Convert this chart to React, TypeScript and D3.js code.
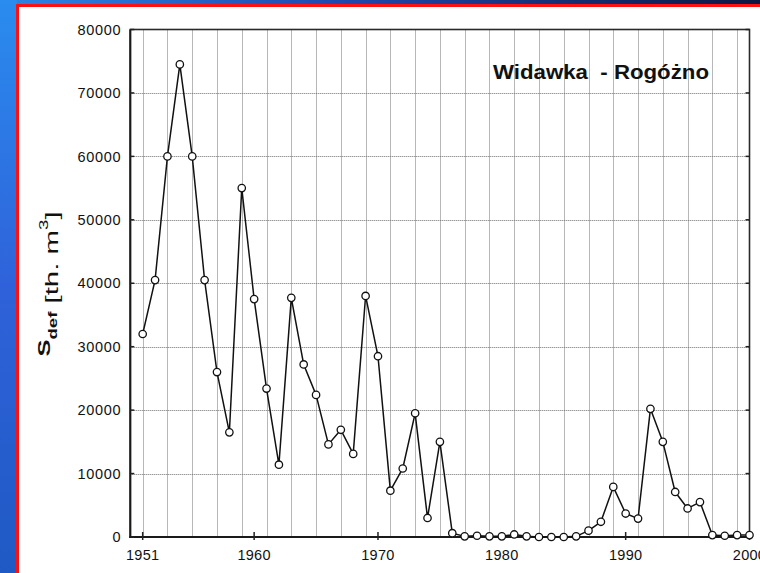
import React from "react";
import * as d3 from "d3";

const years: number[] = d3.range(1951, 2001);
const volumes: number[] = [
  32000, 40500, 60000, 74500, 60000, 40500, 26000, 16500, 55000, 37500,
  23400, 11400, 37700, 27200, 22400, 14600, 16900, 13100, 38000, 28500,
  7300, 10800, 19500, 3000, 15000, 600, 100, 200, 100, 100,
  400, 100, 0, 0, 0, 100, 1000, 2400, 7900, 3700,
  2900, 20200, 15000, 7100, 4500, 5500, 300, 200, 300, 300,
];
const xTickValues: number[] = [1951, 1960, 1970, 1980, 1990, 2000];
const xGridValues: number[] = d3.range(1951, 2000, 2);
const yTickValues: number[] = [0, 10000, 20000, 30000, 40000, 50000, 60000, 70000, 80000];
const yGridValues: number[] = [10000, 20000, 30000, 40000, 50000, 60000, 70000];
const title = "Widawka  - Rogóżno";

const W = 760;
const H = 573;
const L = 130.3, R = 749.5, T = 29.5, B = 537;

export default function App() {
  const x = d3.scaleLinear().domain([1950, 2000]).range([L, R]);
  const y = d3.scaleLinear().domain([0, 80000]).range([B, T]);
  const pts = years.map((yr, i) => ({ yr, v: volumes[i] }));
  const line = d3
    .line<{ yr: number; v: number }>()
    .x((d) => x(d.yr))
    .y((d) => y(d.v));
  const font = "Arial, 'Liberation Sans', sans-serif";
  return (
    <svg
      width={W}
      height={H}
      style={{ position: "absolute", left: 0, top: 0, display: "block" }}
    >
      <defs>
        <linearGradient id="bgH" x1="0" y1="0" x2="1" y2="0">
          <stop offset="0" stopColor="#2b86e6" />
          <stop offset="0.45" stopColor="#1f48b0" />
          <stop offset="1" stopColor="#0c1842" />
        </linearGradient>
        <linearGradient id="bgV" x1="0" y1="0" x2="0" y2="1">
          <stop offset="0" stopColor="#2a8cee" />
          <stop offset="0.5" stopColor="#2f62da" />
          <stop offset="1" stopColor="#1f5ac4" />
        </linearGradient>
        <clipPath id="plotClip">
          <rect x={L} y={T - 6} width={R - L + 6} height={B - T + 12} />
        </clipPath>
      </defs>
      <rect x={0} y={0} width={W} height={H} fill="url(#bgH)" />
      <rect x={0} y={0} width={17} height={H} fill="url(#bgV)" />
      <rect
        x={17.5}
        y={5.5}
        width={W + 10}
        height={H + 10}
        fill="#ffffff"
        stroke="#ff1010"
        strokeWidth={3}
      />

      {/* grid */}
      <g stroke="#6e6e6e" strokeWidth={1} strokeDasharray="1,1">
        {xGridValues.map((v) => (
          <line key={"gx" + v} x1={Math.round(x(v)) + 0.5} x2={Math.round(x(v)) + 0.5} y1={T} y2={B} />
        ))}
        {yGridValues.map((v) => (
          <line key={"gy" + v} x1={L} x2={R} y1={Math.round(y(v)) + 0.5} y2={Math.round(y(v)) + 0.5} />
        ))}
      </g>

      {/* frame */}
      <rect x={L} y={T} width={R - L} height={B - T} fill="none" stroke="#2a2a2a" strokeWidth={1.6} />
      <line x1={L} x2={L} y1={T} y2={B + 1} stroke="#1a1a1a" strokeWidth={2} />
      <line x1={L - 1} x2={R} y1={B} y2={B} stroke="#1a1a1a" strokeWidth={2} />

      {/* ticks */}
      <g stroke="#222" strokeWidth={1.5}>
        {yTickValues.map((v) => (
          <g key={"ty" + v}>
            <line x1={L} x2={L + 4} y1={y(v)} y2={y(v)} />
            <line x1={R - 4} x2={R} y1={y(v)} y2={y(v)} />
          </g>
        ))}
        {xTickValues.map((v) => (
          <line key={"tx" + v} x1={x(v)} x2={x(v)} y1={B - 5} y2={B + 3} />
        ))}
      </g>

      {/* tick labels */}
      <g fontFamily={font} fontSize={14.5} fill="#111">
        {yTickValues.map((v) => (
          <text key={"ly" + v} x={L - 9} y={y(v)} dy="0.36em" textAnchor="end" letterSpacing={0.7}>
            {d3.format("d")(v)}
          </text>
        ))}
        {xTickValues.map((v) => (
          <text key={"lx" + v} x={x(v)} y={560} textAnchor="middle" letterSpacing={0.3}>
            {v}
          </text>
        ))}
      </g>

      {/* data */}
      <g clipPath="url(#plotClip)">
        <path d={line(pts) || ""} fill="none" stroke="#111" strokeWidth={1.5} strokeLinejoin="round" />
        {pts.map((d) => (
          <circle key={"p" + d.yr} cx={x(d.yr)} cy={y(d.v)} r={3.7} fill="#fff" stroke="#111" strokeWidth={1.3} />
        ))}
      </g>

      {/* title */}
      <text
        x={493}
        y={79}
        fontFamily={font}
        fontWeight="bold"
        fontSize={20}
        fill="#111"
        textLength={216}
        lengthAdjust="spacingAndGlyphs"
        style={{ whiteSpace: "pre" }}
      >
        {title}
      </text>

      {/* y label */}
      <text
        transform="translate(57.7,284) rotate(-90) scale(1.55,1)"
        textAnchor="middle"
        fontFamily={font}
        fill="#111"
        fontSize={19}
      >
        <tspan fontWeight="bold" fontSize={16.5} dy={-7.7}>S</tspan>
        <tspan fontWeight="bold" fontSize={12} dy={6.5}>def</tspan>
        <tspan dy={1.2}>{" [th. m"}</tspan>
        <tspan fontSize={12} dy={-10}>3</tspan>
        <tspan dy={10}>]</tspan>
      </text>
    </svg>
  );
}
